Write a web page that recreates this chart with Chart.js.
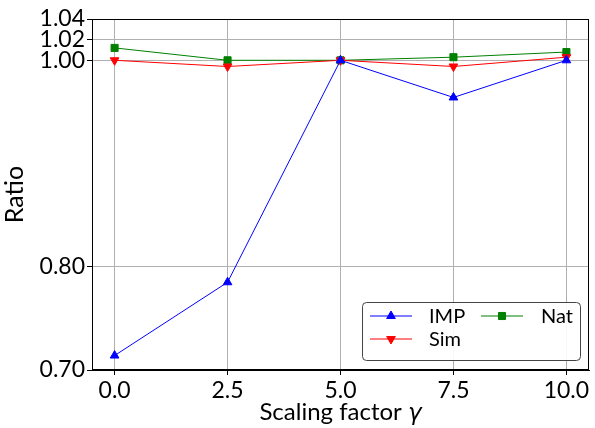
<!DOCTYPE html>
<html>
<head>
<meta charset="utf-8">
<script src="https://cdn.jsdelivr.net/npm/chart.js@4"></script>
<style>
  html, body { margin: 0; padding: 0; background: #fff; }
  #wrap { width: 595px; height: 428px; }
</style>
</head>
<body>
<div id="wrap"><canvas id="ratioChart" width="595" height="428"></canvas></div>
<script>
const gammas = [0, 2.5, 5, 7.5, 10];
const impRatio = [0.714, 0.785, 1.0, 0.964, 1.0];
const simRatio = [1.0, 0.994, 1.0, 0.994, 1.003];
const natRatio = [1.012, 1.0, 1.0, 1.003, 1.008];
const xTicks = [0, 2.5, 5, 7.5, 10];
const yTicks = [0.7, 0.8, 1.0, 1.02, 1.04];
const yTickLabels = ["0.70", "0.80", "1.00", "1.02", "1.04"];

const FONT = "Lato, 'DejaVu Sans', sans-serif";

function toPoints(values) {
  return gammas.map((g, i) => ({ x: g, y: values[i] }));
}

// box around the plot, x title with italic gamma, legend drawn like matplotlib
const framePlugin = {
  id: "frame",
  afterDraw(chart) {
    const { ctx, chartArea } = chart;
    ctx.save();
    ctx.strokeStyle = "#000";
    ctx.lineWidth = 1;
    ctx.strokeRect(chartArea.left + 0.5, chartArea.top + 0.5,
      chartArea.right - chartArea.left - 1, chartArea.bottom - chartArea.top - 1);

    // x axis title
    ctx.fillStyle = "#000";
    ctx.textBaseline = "alphabetic";
    const main = "Scaling factor ";
    const gammaFont = "italic 23px 'DejaVu Sans', sans-serif";
    ctx.font = "24px " + FONT;
    const w1 = ctx.measureText(main).width;
    ctx.font = gammaFont;
    const w2 = ctx.measureText("γ").width;
    const cx = (chartArea.left + chartArea.right) / 2;
    const startX = cx - (w1 + w2) / 2;
    ctx.font = "24px " + FONT;
    ctx.textAlign = "left";
    ctx.fillText(main, startX, 420);
    ctx.font = gammaFont;
    ctx.fillText("γ", startX + w1, 420);

    // legend
    const bx = 362, by = 302, bw = 218, bh = 58, r = 4;
    ctx.beginPath();
    ctx.roundRect(bx + 0.5, by + 0.5, bw, bh, r);
    ctx.fillStyle = "rgba(255,255,255,0.9)";
    ctx.fill();
    ctx.strokeStyle = "#444";
    ctx.lineWidth = 1;
    ctx.stroke();

    const slots = [
      { x: 370, y: 316 },
      { x: 370, y: 339 },
      { x: 481, y: 316 },
    ];
    chart.data.datasets.forEach((ds, i) => {
      const s = slots[i];
      ctx.strokeStyle = ds.borderColor;
      ctx.lineWidth = ds.borderWidth;
      ctx.beginPath();
      ctx.moveTo(s.x, s.y);
      ctx.lineTo(s.x + 42, s.y);
      ctx.stroke();
      ctx.fillStyle = ds.pointBackgroundColor;
      ctx.strokeStyle = ds.pointBorderColor;
      Chart.helpers.drawPoint(ctx, {
        pointStyle: ds.pointStyle,
        rotation: ds.pointRotation || 0,
        radius: ds.pointRadius,
        borderWidth: 1,
      }, s.x + 21, s.y);
      ctx.fillStyle = "#000";
      ctx.font = "20px " + FONT;
      ctx.textAlign = "left";
      ctx.textBaseline = "middle";
      ctx.fillText(ds.label, i === 2 ? 541 : 429, s.y + 1);
    });
    ctx.restore();
  },
};

const ctx = document.getElementById("ratioChart").getContext("2d");
new Chart(ctx, {
  type: "line",
  data: {
    datasets: [
      {
        label: "IMP",
        data: toPoints(impRatio),
        borderColor: "#0000ff",
        backgroundColor: "#0000ff",
        pointBackgroundColor: "#0000ff",
        pointBorderColor: "#0000ff",
        pointStyle: "triangle",
        pointRadius: 5,
        borderWidth: 1,
      },
      {
        label: "Sim",
        data: toPoints(simRatio),
        borderColor: "#ff0000",
        backgroundColor: "#ff0000",
        pointBackgroundColor: "#ff0000",
        pointBorderColor: "#ff0000",
        pointStyle: "triangle",
        pointRotation: 180,
        pointRadius: 5,
        borderWidth: 1,
      },
      {
        label: "Nat",
        data: toPoints(natRatio),
        borderColor: "#008000",
        backgroundColor: "#008000",
        pointBackgroundColor: "#008000",
        pointBorderColor: "#008000",
        pointStyle: "rect",
        pointRadius: 5,
        borderWidth: 1,
      },
    ],
  },
  options: {
    responsive: false,
    animation: false,
    layout: { padding: { top: 19, right: 5, left: 0, bottom: 0 } },
    elements: { line: { tension: 0 } },
    plugins: {
      legend: { display: false },
      tooltip: { enabled: false },
    },
    scales: {
      x: {
        type: "linear",
        min: -0.5,
        max: 10.5,
        afterBuildTicks: (scale) => {
          scale.ticks = xTicks.map((v) => ({ value: v }));
        },
        afterFit: (scale) => {
          scale.height = 58;
        },
        ticks: {
          color: "#000",
          font: { family: FONT, size: 23 },
          padding: 2,
          maxRotation: 0,
          callback: (v) => Number(v).toFixed(1),
        },
        grid: {
          color: "#b0b0b0",
          lineWidth: 1,
          tickColor: "#000",
          tickLength: 5,
        },
        border: { color: "#000", width: 1 },
      },
      y: {
        type: "linear",
        min: 0.7,
        max: 1.04,
        afterBuildTicks: (scale) => {
          scale.ticks = yTicks.map((v) => ({ value: v }));
        },
        afterFit: (scale) => {
          scale.width = 92;
        },
        ticks: {
          color: "#000",
          font: { family: FONT, size: 23 },
          padding: 2,
          callback: (v) => yTickLabels[yTicks.findIndex((t) => Math.abs(t - v) < 1e-6)],
        },
        title: {
          display: true,
          text: "Ratio",
          color: "#000",
          font: { family: FONT, size: 25 },
          padding: { top: 0, bottom: 0 },
        },
        grid: {
          color: "#b0b0b0",
          lineWidth: 1,
          tickColor: "#000",
          tickLength: 5,
        },
        border: { color: "#000", width: 1 },
      },
    },
  },
  plugins: [framePlugin],
});
</script>
</body>
</html>
